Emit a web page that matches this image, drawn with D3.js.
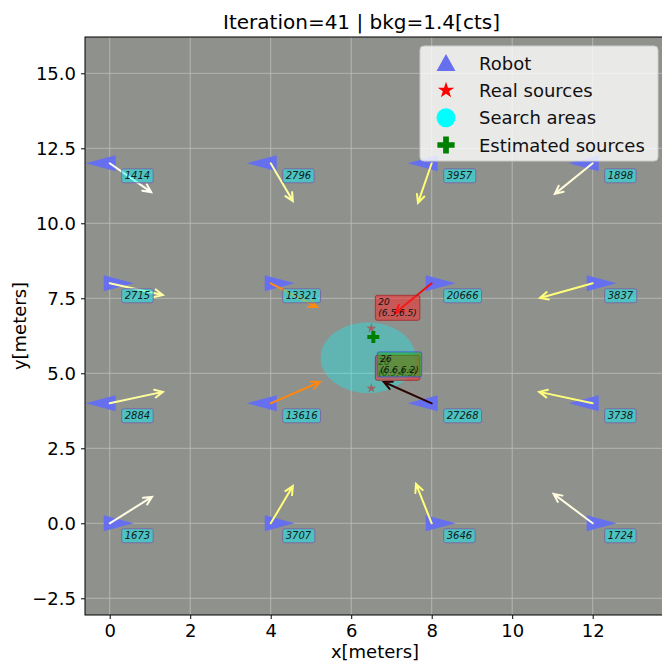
<!DOCTYPE html>
<meta charset="utf-8" />
<script src="https://d3js.org/d3.v7.min.js"></script>
<style>
	body { margin: 0; background: #fff; }
	text { font-family: 'DejaVu Sans', sans-serif; }
</style>
<div id="my_dataviz"></div>

<script>
	// robots (grid positions, heading in degrees, counts, arrow tips)
	var robotX = [0, 4, 8, 12, 0, 4, 8, 12, 0, 4, 8, 12, 0, 4, 8, 12];
	var robotY = [12, 12, 12, 12, 8, 8, 8, 8, 4, 4, 4, 4, 0, 0, 0, 0];
	var heading = [180, 180, 180, 180, 0, 0, 0, 0, 180, 180, 180, 180, 0, 0, 0, 0];
	var counts = [1414, 2796, 3957, 1898, 2715, 13321, 20666, 3837, 2884, 13616, 27268, 3738, 1673, 3707, 3646, 1724];
	var arrowX = [1.03, 4.55, 7.66, 11.06, 1.32, 5.15, 7.09, 10.69, 1.32, 5.22, 6.81, 10.67, 1.05, 4.55, 7.61, 11.03];
	var arrowY = [11.04, 10.74, 10.68, 10.98, 7.61, 7.21, 7.01, 7.51, 4.38, 4.71, 4.71, 4.38, 0.88, 1.24, 1.31, 0.98];

	// real sources
	var srcX = [6.5, 6.5];
	var srcY = [6.5, 4.5];
	var srcLabel = ['20', '20'];

	// estimated sources
	var estX = [6.55];
	var estY = [6.21];
	var estLabel = ['26'];
	var estText = ['(6.6,6.2)'];
	var estLabelX = [6.72];
	var estLabelY = [5.38];

	// search areas
	var areaX = [6.42];
	var areaY = [5.52];
	var areaR = [1.18];

	var xTicks = [0, 2, 4, 6, 8, 10, 12];
	var yTicks = [-2.5, 0, 2.5, 5, 7.5, 10, 12.5, 15];
	var legendLabels = ['Robot', 'Real sources', 'Search areas', 'Estimated sources'];

	var width = 662, height = 664;
	var pl = 85, pt = 37, pr = 667, pb = 615;

	var svg = d3
		.select('#my_dataviz')
		.append('svg')
		.attr('width', width)
		.attr('height', height);

	var x = d3.scaleLinear().domain([-0.614, 13.846]).range([pl, pr]);
	var y = d3.scaleLinear().domain([-3.057, 16.21]).range([pb, pt]);
	var color = d3
		.scaleLinear()
		.domain([1414, 1900, 2800, 3800, 13400, 20666, 27268])
		.range(['#fffff4', '#fffbd8', '#ffffa0', '#ffff78', '#ff8a10', '#ee1010', '#2c0404']);

	svg.append('defs').append('clipPath').attr('id', 'clip')
		.append('rect').attr('x', pl).attr('y', pt)
		.attr('width', pr - pl).attr('height', pb - pt);

	// background + grid
	svg.append('rect')
		.attr('x', pl).attr('y', pt)
		.attr('width', pr - pl).attr('height', pb - pt)
		.attr('fill', '#8f918d');

	var plot = svg.append('g').attr('clip-path', 'url(#clip)');

	plot.selectAll('.gx').data(xTicks).enter().append('line')
		.attr('x1', function (d) { return x(d); }).attr('x2', function (d) { return x(d); })
		.attr('y1', pt).attr('y2', pb)
		.attr('stroke', '#b9bab7').attr('stroke-width', 0.9);
	plot.selectAll('.gy').data(yTicks).enter().append('line')
		.attr('y1', function (d) { return y(d); }).attr('y2', function (d) { return y(d); })
		.attr('x1', pl).attr('x2', pr)
		.attr('stroke', '#b9bab7').attr('stroke-width', 0.9);

	var robots = robotX.map(function (d, i) {
		return { x: d, y: robotY[i], h: heading[i], c: counts[i], ax: arrowX[i], ay: arrowY[i] };
	});

	// search area
	plot.selectAll('.area').data(areaX).enter().append('ellipse')
		.attr('cx', function (d) { return x(d); })
		.attr('cy', function (d, i) { return y(areaY[i]); })
		.attr('rx', function (d, i) { return x(areaR[i]) - x(0); })
		.attr('ry', function (d, i) { return y(0) - y(areaR[i]); })
		.attr('fill', '#00ffff').attr('fill-opacity', 0.33);

	// robot triangles
	plot.selectAll('.robot').data(robots).enter().append('path')
		.attr('d', 'M-6,-8L-6,8L24,0Z')
		.attr('transform', function (d) { return 'translate(' + x(d.x) + ',' + y(d.y) + ')rotate(' + d.h + ')'; })
		.attr('fill', '#6670ee');

	// arrows
	function arrowPath(x1, y1, x2, y2) {
		var a = Math.atan2(y2 - y1, x2 - x1), L = 9, s = 0.45;
		var p1 = [x2 - L * Math.cos(a - s), y2 - L * Math.sin(a - s)];
		var p2 = [x2 - L * Math.cos(a + s), y2 - L * Math.sin(a + s)];
		return 'M' + x1 + ',' + y1 + 'L' + x2 + ',' + y2 +
			'M' + p1[0] + ',' + p1[1] + 'L' + x2 + ',' + y2 + 'L' + p2[0] + ',' + p2[1];
	}
	plot.selectAll('.arrow').data(robots).enter().append('path')
		.attr('d', function (d) { return arrowPath(x(d.x), y(d.y), x(d.ax), y(d.ay)); })
		.attr('fill', 'none')
		.attr('stroke', function (d) { return color(d.c); })
		.attr('stroke-width', 2)
		.attr('stroke-linecap', 'round');

	// count labels
	var lab = plot.selectAll('.lab').data(robots).enter().append('g');
	lab.append('text')
		.attr('x', function (d) { return x(d.x) + 15; })
		.attr('y', function (d) { return y(d.y) + 16; })
		.attr('font-size', 10)
		.attr('font-style', 'italic')
		.attr('fill', '#102020')
		.text(function (d) { return d.c; });
	lab.each(function () {
		var g = d3.select(this), b = g.select('text').node().getBBox();
		g.insert('rect', 'text')
			.attr('x', b.x - 3).attr('y', b.y - 1.5)
			.attr('width', b.width + 6).attr('height', b.height + 3)
			.attr('rx', 2)
			.attr('fill', '#00ffff').attr('fill-opacity', 0.45)
			.attr('stroke', '#7a5aa6').attr('stroke-opacity', 0.8);
	});

	// source annotation boxes
	function annot(px, py, l1, l2, fill, stroke) {
		var g = plot.append('g');
		var t = g.append('text').attr('font-size', 9).attr('font-style', 'italic').attr('fill', '#111');
		t.append('tspan').attr('x', px).attr('y', py).text(l1);
		t.append('tspan').attr('x', px).attr('y', py + 11).text(l2);
		var b = t.node().getBBox();
		g.insert('rect', 'text')
			.attr('x', b.x - 3).attr('y', b.y - 2)
			.attr('width', b.width + 6).attr('height', b.height + 4)
			.attr('rx', 2)
			.attr('fill', fill).attr('fill-opacity', 0.5)
			.attr('stroke', stroke).attr('stroke-opacity', 0.8);
	}
	srcX.forEach(function (d, i) {
		annot(x(d) + 7, y(srcY[i]) - 23, srcLabel[i], '(' + d.toFixed(1) + ',' + srcY[i].toFixed(1) + ')', '#ff2020', '#a02828');
	});
	estX.forEach(function (d, i) {
		annot(x(estLabelX[i]), y(estLabelY[i]), estLabel[i], estText[i], '#10b018', '#4050e0');
	});

	// real sources
	plot.selectAll('.src').data(srcX).enter().append('path')
		.attr('d', d3.symbol(d3.symbolStar).size(30))
		.attr('transform', function (d, i) { return 'translate(' + x(d) + ',' + y(srcY[i]) + ')'; })
		.attr('fill', '#d02020').attr('fill-opacity', 0.55);

	// estimated sources
	plot.selectAll('.est').data(estX).enter().append('path')
		.attr('d', d3.symbol(d3.symbolCross).size(80))
		.attr('transform', function (d, i) { return 'translate(' + x(d) + ',' + y(estY[i]) + ')'; })
		.attr('fill', '#008000');

	// axes
	var xAxis = svg.append('g')
		.attr('transform', 'translate(0,' + pb + ')')
		.call(d3.axisBottom(x).tickValues(xTicks).tickSize(4).tickSizeOuter(0).tickPadding(5));
	var yAxis = svg.append('g')
		.attr('transform', 'translate(' + pl + ',0)')
		.call(d3.axisLeft(y).tickValues(yTicks).tickSize(4).tickSizeOuter(0).tickPadding(5).tickFormat(d3.format('.1f')));
	[xAxis, yAxis].forEach(function (a) {
		a.select('.domain').remove();
		a.selectAll('text').attr('font-size', 18).attr('font-family', 'DejaVu Sans').attr('fill', '#000');
		a.selectAll('line').attr('stroke', '#000');
	});
	// frame
	svg.append('rect')
		.attr('x', pl).attr('y', pt)
		.attr('width', pr - pl).attr('height', pb - pt)
		.attr('fill', 'none').attr('stroke', '#000').attr('stroke-width', 1);

	// legend
	var lg = svg.append('g');
	lg.append('rect')
		.attr('x', 420).attr('y', 46).attr('width', 238).attr('height', 115).attr('rx', 4)
		.attr('fill', '#fff').attr('fill-opacity', 0.8)
		.attr('stroke', '#cccccc');
	var ly = d3.scalePoint().domain(legendLabels).range([63, 145]);
	lg.append('path').attr('d', 'M-9.5,8L9.5,8L0,-9Z')
		.attr('transform', 'translate(446,' + ly('Robot') + ')').attr('fill', '#6670ee');
	lg.append('path').attr('d', d3.symbol(d3.symbolStar).size(85))
		.attr('transform', 'translate(446,' + ly('Real sources') + ')').attr('fill', '#ff0000');
	lg.append('circle').attr('cx', 446).attr('cy', ly('Search areas')).attr('r', 9.5).attr('fill', '#00ffff');
	lg.append('path').attr('d', d3.symbol(d3.symbolCross).size(165))
		.attr('transform', 'translate(446,' + ly('Estimated sources') + ')').attr('fill', '#008000');
	lg.selectAll('.lt').data(legendLabels).enter().append('text')
		.attr('x', 479)
		.attr('y', function (d) { return ly(d) + 6.5; })
		.attr('font-size', 18)
		.attr('fill', '#111')
		.text(function (d) { return d; });

	// title and labels
	svg.append('text')
		.attr('x', 361.5).attr('y', 28.5)
		.attr('text-anchor', 'middle')
		.attr('font-size', 20)
		.text('Iteration=41 | bkg=1.4[cts]');
	svg.append('text')
		.attr('x', 375).attr('y', 658)
		.attr('text-anchor', 'middle')
		.attr('font-size', 18)
		.text('x[meters]');
	svg.append('text')
		.attr('transform', 'translate(26,' + (pt + pb) / 2 + ')rotate(-90)')
		.attr('text-anchor', 'middle')
		.attr('font-size', 18)
		.text('y[meters]');
</script>
